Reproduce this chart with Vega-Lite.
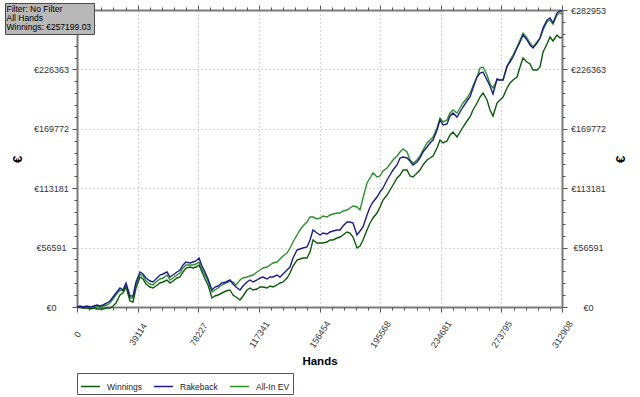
{
 "$schema": "https://vega.github.io/schema/vega-lite/v6.json",
 "width": 485,
 "height": 297,
 "autosize": "none",
 "padding": {"left": 77, "top": 10, "right": 78, "bottom": 90},
 "background": "white",
 "config": {
  "font": "Liberation Sans",
  "view": {"stroke": null},
  "axis": {"domainColor": "#7a7a7a", "domainWidth": 2, "tickColor": "#555", "tickWidth": 1, "labelColor": "#333", "labelFontSize": 9, "labelFont": "Liberation Sans", "titleColor": "#000", "titleFont": "Liberation Sans", "gridColor": "#aaa", "gridDash": [1, 3], "gridWidth": 1, "labelOverlap": false, "labelFlush": false}
 },
 "datasets": {
  "curve": [
   {"h":0,"Winnings":0,"Rakeback":0,"All-In EV":0},
   {"h":1936,"Winnings":0,"Rakeback":953,"All-In EV":0},
   {"h":3871,"Winnings":-953,"Rakeback":0,"All-In EV":-953},
   {"h":6452,"Winnings":-953,"Rakeback":953,"All-In EV":0},
   {"h":8388,"Winnings":-1905,"Rakeback":0,"All-In EV":-953},
   {"h":10968,"Winnings":-953,"Rakeback":953,"All-In EV":0},
   {"h":12904,"Winnings":-1905,"Rakeback":1905,"All-In EV":953},
   {"h":14840,"Winnings":-1905,"Rakeback":953,"All-In EV":0},
   {"h":16776,"Winnings":-1905,"Rakeback":1905,"All-In EV":953},
   {"h":19356,"Winnings":-953,"Rakeback":3811,"All-In EV":1905},
   {"h":21292,"Winnings":-953,"Rakeback":5716,"All-In EV":3811},
   {"h":23227,"Winnings":953,"Rakeback":9527,"All-In EV":7622},
   {"h":25163,"Winnings":3811,"Rakeback":13338,"All-In EV":11432},
   {"h":27744,"Winnings":11432,"Rakeback":18101,"All-In EV":16196},
   {"h":29679,"Winnings":13338,"Rakeback":16196,"All-In EV":15243},
   {"h":31615,"Winnings":19054,"Rakeback":22865,"All-In EV":20959},
   {"h":34196,"Winnings":5716,"Rakeback":10480,"All-In EV":8574},
   {"h":36131,"Winnings":4764,"Rakeback":10480,"All-In EV":8574},
   {"h":38067,"Winnings":18101,"Rakeback":23818,"All-In EV":20959},
   {"h":40648,"Winnings":28581,"Rakeback":33345,"All-In EV":31439},
   {"h":42583,"Winnings":26676,"Rakeback":31439,"All-In EV":29534},
   {"h":44519,"Winnings":21912,"Rakeback":27628,"All-In EV":24770},
   {"h":47100,"Winnings":19054,"Rakeback":24770,"All-In EV":21912},
   {"h":49035,"Winnings":18101,"Rakeback":23818,"All-In EV":20959},
   {"h":50971,"Winnings":20007,"Rakeback":26676,"All-In EV":23818},
   {"h":53552,"Winnings":22865,"Rakeback":30486,"All-In EV":26676},
   {"h":55487,"Winnings":23818,"Rakeback":31439,"All-In EV":27628},
   {"h":58068,"Winnings":25723,"Rakeback":33345,"All-In EV":30486},
   {"h":60004,"Winnings":22865,"Rakeback":28581,"All-In EV":25723},
   {"h":61939,"Winnings":24770,"Rakeback":30486,"All-In EV":27628},
   {"h":64520,"Winnings":27628,"Rakeback":33345,"All-In EV":30486},
   {"h":66456,"Winnings":28581,"Rakeback":35250,"All-In EV":32392},
   {"h":68391,"Winnings":33345,"Rakeback":40013,"All-In EV":37155},
   {"h":70327,"Winnings":37155,"Rakeback":42872,"All-In EV":40013},
   {"h":72908,"Winnings":38108,"Rakeback":41919,"All-In EV":40013},
   {"h":74843,"Winnings":37155,"Rakeback":42872,"All-In EV":40013},
   {"h":76779,"Winnings":38108,"Rakeback":43824,"All-In EV":40966},
   {"h":78714,"Winnings":40013,"Rakeback":46682,"All-In EV":42872},
   {"h":80650,"Winnings":33345,"Rakeback":39061,"All-In EV":36203},
   {"h":82586,"Winnings":26676,"Rakeback":33345,"All-In EV":30486},
   {"h":84521,"Winnings":20959,"Rakeback":26676,"All-In EV":24770},
   {"h":87102,"Winnings":8574,"Rakeback":16196,"All-In EV":14291},
   {"h":89038,"Winnings":10480,"Rakeback":19054,"All-In EV":16196},
   {"h":90973,"Winnings":11432,"Rakeback":20007,"All-In EV":18101},
   {"h":93554,"Winnings":13338,"Rakeback":22865,"All-In EV":20959},
   {"h":96135,"Winnings":15243,"Rakeback":23818,"All-In EV":22865},
   {"h":98716,"Winnings":16196,"Rakeback":25723,"All-In EV":24770},
   {"h":100651,"Winnings":11432,"Rakeback":21912,"All-In EV":23818},
   {"h":102587,"Winnings":9527,"Rakeback":19054,"All-In EV":20959},
   {"h":105168,"Winnings":6669,"Rakeback":16196,"All-In EV":25723},
   {"h":107103,"Winnings":10480,"Rakeback":20007,"All-In EV":27628},
   {"h":109684,"Winnings":16196,"Rakeback":23818,"All-In EV":28581},
   {"h":111620,"Winnings":18101,"Rakeback":25723,"All-In EV":29534},
   {"h":113555,"Winnings":16196,"Rakeback":23818,"All-In EV":30486},
   {"h":116136,"Winnings":17149,"Rakeback":25723,"All-In EV":33345},
   {"h":118072,"Winnings":19054,"Rakeback":27628,"All-In EV":35250},
   {"h":120007,"Winnings":19054,"Rakeback":28581,"All-In EV":37155},
   {"h":122588,"Winnings":18101,"Rakeback":26676,"All-In EV":38108},
   {"h":124524,"Winnings":20007,"Rakeback":28581,"All-In EV":40013},
   {"h":126459,"Winnings":19054,"Rakeback":28581,"All-In EV":41919},
   {"h":129040,"Winnings":20959,"Rakeback":30486,"All-In EV":42872},
   {"h":130976,"Winnings":22865,"Rakeback":28581,"All-In EV":45730},
   {"h":132911,"Winnings":23818,"Rakeback":31439,"All-In EV":48588},
   {"h":135492,"Winnings":27628,"Rakeback":35250,"All-In EV":51446},
   {"h":137428,"Winnings":32392,"Rakeback":38108,"All-In EV":56209},
   {"h":139363,"Winnings":39061,"Rakeback":46682,"All-In EV":61926},
   {"h":141944,"Winnings":44777,"Rakeback":54304,"All-In EV":68594},
   {"h":143880,"Winnings":45730,"Rakeback":55257,"All-In EV":73358},
   {"h":145815,"Winnings":46682,"Rakeback":56209,"All-In EV":77169},
   {"h":148396,"Winnings":46682,"Rakeback":57162,"All-In EV":80980},
   {"h":150332,"Winnings":52399,"Rakeback":63831,"All-In EV":85743},
   {"h":152267,"Winnings":63831,"Rakeback":73358,"All-In EV":85743},
   {"h":154848,"Winnings":60973,"Rakeback":70500,"All-In EV":83838},
   {"h":156784,"Winnings":60973,"Rakeback":68594,"All-In EV":84790},
   {"h":158719,"Winnings":60973,"Rakeback":70500,"All-In EV":86696},
   {"h":161300,"Winnings":61926,"Rakeback":69547,"All-In EV":85743},
   {"h":163236,"Winnings":63831,"Rakeback":71453,"All-In EV":87648},
   {"h":165171,"Winnings":63831,"Rakeback":72405,"All-In EV":88601},
   {"h":167752,"Winnings":65736,"Rakeback":73358,"All-In EV":89554},
   {"h":169688,"Winnings":66689,"Rakeback":73358,"All-In EV":89554},
   {"h":171623,"Winnings":68594,"Rakeback":77169,"All-In EV":91459},
   {"h":174204,"Winnings":71453,"Rakeback":80980,"All-In EV":92412},
   {"h":176140,"Winnings":70500,"Rakeback":80980,"All-In EV":94317},
   {"h":178075,"Winnings":66689,"Rakeback":80027,"All-In EV":96223},
   {"h":180656,"Winnings":56209,"Rakeback":68594,"All-In EV":95270},
   {"h":182592,"Winnings":58115,"Rakeback":72405,"All-In EV":92412},
   {"h":184527,"Winnings":63831,"Rakeback":76216,"All-In EV":103844},
   {"h":187108,"Winnings":73358,"Rakeback":87648,"All-In EV":118135},
   {"h":189044,"Winnings":80027,"Rakeback":95270,"All-In EV":122898},
   {"h":190979,"Winnings":84790,"Rakeback":100034,"All-In EV":127662},
   {"h":193560,"Winnings":89554,"Rakeback":104797,"All-In EV":123851},
   {"h":195496,"Winnings":95270,"Rakeback":109561,"All-In EV":124804},
   {"h":197431,"Winnings":101939,"Rakeback":113371,"All-In EV":129567},
   {"h":200012,"Winnings":106702,"Rakeback":120993,"All-In EV":132425},
   {"h":201948,"Winnings":111466,"Rakeback":125756,"All-In EV":136236},
   {"h":203883,"Winnings":116229,"Rakeback":130520,"All-In EV":140047},
   {"h":206464,"Winnings":122898,"Rakeback":135283,"All-In EV":143858},
   {"h":208400,"Winnings":125756,"Rakeback":141952,"All-In EV":147669},
   {"h":210335,"Winnings":130520,"Rakeback":142905,"All-In EV":150527},
   {"h":212916,"Winnings":130520,"Rakeback":141952,"All-In EV":147669},
   {"h":214852,"Winnings":124804,"Rakeback":139094,"All-In EV":140047},
   {"h":216787,"Winnings":123851,"Rakeback":135283,"All-In EV":137189},
   {"h":219368,"Winnings":127662,"Rakeback":138142,"All-In EV":140047},
   {"h":221304,"Winnings":130520,"Rakeback":141952,"All-In EV":143858},
   {"h":223239,"Winnings":135283,"Rakeback":147669,"All-In EV":149574},
   {"h":225820,"Winnings":140047,"Rakeback":152432,"All-In EV":156243},
   {"h":227756,"Winnings":141952,"Rakeback":156243,"All-In EV":159101},
   {"h":229691,"Winnings":143858,"Rakeback":159101,"All-In EV":161959},
   {"h":232272,"Winnings":151479,"Rakeback":168628,"All-In EV":170533},
   {"h":234208,"Winnings":159101,"Rakeback":178155,"All-In EV":180060},
   {"h":236143,"Winnings":156243,"Rakeback":173391,"All-In EV":176250},
   {"h":238724,"Winnings":158148,"Rakeback":174344,"All-In EV":178155},
   {"h":240660,"Winnings":163864,"Rakeback":181966,"All-In EV":184824},
   {"h":242595,"Winnings":166723,"Rakeback":184824,"All-In EV":187682},
   {"h":245176,"Winnings":161959,"Rakeback":181013,"All-In EV":184824},
   {"h":247112,"Winnings":166723,"Rakeback":185777,"All-In EV":189587},
   {"h":249047,"Winnings":171486,"Rakeback":190540,"All-In EV":194351},
   {"h":251628,"Winnings":177202,"Rakeback":196256,"All-In EV":199114},
   {"h":253564,"Winnings":181013,"Rakeback":200067,"All-In EV":203878},
   {"h":255499,"Winnings":187682,"Rakeback":208641,"All-In EV":210547},
   {"h":258080,"Winnings":194351,"Rakeback":219121,"All-In EV":219121},
   {"h":260016,"Winnings":200067,"Rakeback":222932,"All-In EV":227695},
   {"h":261951,"Winnings":203878,"Rakeback":223885,"All-In EV":228648},
   {"h":264532,"Winnings":197209,"Rakeback":216263,"All-In EV":221026},
   {"h":266468,"Winnings":187682,"Rakeback":210547,"All-In EV":212452},
   {"h":268403,"Winnings":181966,"Rakeback":202925,"All-In EV":208641},
   {"h":270984,"Winnings":194351,"Rakeback":217216,"All-In EV":216263},
   {"h":272920,"Winnings":197209,"Rakeback":216263,"All-In EV":216263},
   {"h":274855,"Winnings":200067,"Rakeback":216263,"All-In EV":216263},
   {"h":277436,"Winnings":208641,"Rakeback":229601,"All-In EV":228648},
   {"h":279372,"Winnings":213405,"Rakeback":233412,"All-In EV":235317},
   {"h":281307,"Winnings":216263,"Rakeback":238175,"All-In EV":240080},
   {"h":283888,"Winnings":219121,"Rakeback":246749,"All-In EV":247702},
   {"h":285824,"Winnings":228648,"Rakeback":252466,"All-In EV":254371},
   {"h":287759,"Winnings":237222,"Rakeback":259134,"All-In EV":261040},
   {"h":290340,"Winnings":233412,"Rakeback":254371,"All-In EV":256276},
   {"h":292276,"Winnings":231506,"Rakeback":249607,"All-In EV":251513},
   {"h":294211,"Winnings":225790,"Rakeback":246749,"All-In EV":247702},
   {"h":296792,"Winnings":225790,"Rakeback":251513,"All-In EV":252466},
   {"h":298728,"Winnings":228648,"Rakeback":256276,"All-In EV":256276},
   {"h":300663,"Winnings":242939,"Rakeback":265803,"All-In EV":263898},
   {"h":303244,"Winnings":250560,"Rakeback":273425,"All-In EV":271520},
   {"h":305180,"Winnings":257229,"Rakeback":275330,"All-In EV":273425},
   {"h":307115,"Winnings":253418,"Rakeback":270567,"All-In EV":269614},
   {"h":309696,"Winnings":259134,"Rakeback":280094,"All-In EV":278188},
   {"h":311632,"Winnings":256276,"Rakeback":281999,"All-In EV":280094},
   {"h":312908,"Winnings":257199,"Rakeback":281999,"All-In EV":279141}
  ],
  "info": [
   {"info": "Filter: No Filter"},
   {"info": "All Hands"},
   {"info": "Winnings: €257199.03"}
  ]
 },
 "data": {"name": "curve"},
 "layer": [
  {
   "transform": [{"fold": ["All-In EV", "Winnings", "Rakeback"], "as": ["key", "value"]}],
   "mark": {"type": "line", "strokeWidth": 1.4},
   "encoding": {
    "x": {"field": "h", "type": "quantitative", "scale": {"domain": [0, 312908], "nice": false, "zero": false},
     "axis": {"orient": "bottom", "values": [0, 39114, 78227, 117341, 156454, 195568, 234681, 273795, 312908], "format": "d", "labelAngle": -57, "labelAlign": "center", "labelBaseline": "middle", "labelPadding": 22, "tickSize": 5, "grid": true, "title": "Hands", "titleFontSize": 11.5, "titleFontWeight": "bold", "titleY": 54, "titleBaseline": "middle"}},
    "y": {"field": "value", "type": "quantitative", "scale": {"domain": [0, 282953], "nice": false, "zero": false},
     "axis": {"orient": "left", "values": [0, 56591, 113181, 169772, 226363, 282953], "labelExpr": "datum.value > 282000 ? '' : '€' + datum.value", "labelAlign": "center", "labelBaseline": "middle", "labelPadding": 21, "tickSize": 5, "grid": true, "title": "€", "titleFontSize": 13, "titleFontWeight": "bold", "titleAngle": -90, "titleX": -60, "titleY": 149, "titleAlign": "center", "titleBaseline": "middle"}},
    "color": {"field": "key", "type": "nominal", "scale": {"domain": ["Winnings", "Rakeback", "All-In EV"], "range": ["#0c5a0c", "#1c1c8c", "#2f8f2f"]},
     "legend": {"orient": "none", "legendX": 0, "legendY": 363, "direction": "horizontal", "title": null, "symbolType": "stroke", "symbolSize": 361, "symbolStrokeWidth": 1.5, "labelFontSize": 8.5, "labelOffset": 6, "columnPadding": 9, "padding": 3, "strokeColor": "#555", "fillColor": "#fff", "labelColor": "#222"}}
   }
  },
  {
   "transform": [{"fold": ["All-In EV", "Winnings", "Rakeback"], "as": ["key", "value"]}],
   "mark": {"type": "line", "strokeOpacity": 0},
   "encoding": {
    "x": {"field": "h", "type": "quantitative", "scale": {"domain": [0, 312908], "nice": false, "zero": false},
     "axis": {"orient": "top", "values": [0, 39114, 78227, 117341, 156454, 195568, 234681, 273795, 312908], "labels": false, "tickSize": 5, "grid": false, "title": null}},
    "y": {"field": "value", "type": "quantitative", "scale": {"domain": [0, 282953], "nice": false, "zero": false},
     "axis": {"orient": "right", "values": [0, 56591, 113181, 169772, 226363, 282953], "labelExpr": "'€' + datum.value", "labelAlign": "center", "labelBaseline": "middle", "labelPadding": 21, "tickSize": 5, "grid": false, "title": "€", "titleFontSize": 13, "titleFontWeight": "bold", "titleAngle": -90, "titleX": 58, "titleY": 149, "titleAlign": "center", "titleBaseline": "middle"}},
    "detail": {"field": "key", "type": "nominal"}
   }
  },
  {
   "transform": [{"fold": ["All-In EV", "Winnings", "Rakeback"], "as": ["key", "value"]}],
   "mark": {"type": "line", "strokeOpacity": 0},
   "encoding": {
    "x": {"field": "h", "type": "quantitative", "scale": {"domain": [0, 312908], "nice": false, "zero": false},
     "axis": {"orient": "bottom", "values": [7823, 15645, 23468, 31291, 46937, 54759, 62582, 70405, 86050, 93873, 101695, 109518, 125164, 132986, 140809, 148632, 164277, 172100, 179922, 187745, 203391, 211213, 219036, 226859, 242504, 250327, 258149, 265972, 281618, 289440, 297263, 305086], "labels": false, "tickSize": 3, "domain": false, "grid": false, "title": null}},
    "y": {"field": "value", "type": "quantitative", "scale": {"domain": [0, 282953], "nice": false, "zero": false},
     "axis": {"orient": "left", "values": [11318, 22636, 33954, 45273, 67909, 79227, 90545, 101863, 124500, 135818, 147136, 158454, 181090, 192408, 203727, 215045, 237681, 248999, 260317, 271635], "labels": false, "tickSize": 3, "domain": false, "grid": false, "title": null}},
    "detail": {"field": "key", "type": "nominal"}
   }
  },
  {
   "transform": [{"fold": ["All-In EV", "Winnings", "Rakeback"], "as": ["key", "value"]}],
   "mark": {"type": "line", "strokeOpacity": 0},
   "encoding": {
    "x": {"field": "h", "type": "quantitative", "scale": {"domain": [0, 312908], "nice": false, "zero": false},
     "axis": {"orient": "top", "values": [7823, 15645, 23468, 31291, 46937, 54759, 62582, 70405, 86050, 93873, 101695, 109518, 125164, 132986, 140809, 148632, 164277, 172100, 179922, 187745, 203391, 211213, 219036, 226859, 242504, 250327, 258149, 265972, 281618, 289440, 297263, 305086], "labels": false, "tickSize": 3, "domain": false, "grid": false, "title": null}},
    "y": {"field": "value", "type": "quantitative", "scale": {"domain": [0, 282953], "nice": false, "zero": false},
     "axis": {"orient": "right", "values": [11318, 22636, 33954, 45273, 67909, 79227, 90545, 101863, 124500, 135818, 147136, 158454, 181090, 192408, 203727, 215045, 237681, 248999, 260317, 271635], "labels": false, "tickSize": 3, "domain": false, "grid": false, "title": null}},
    "detail": {"field": "key", "type": "nominal"}
   }
  },
  {
   "data": {"name": "info"},
   "mark": {"type": "point", "opacity": 0, "size": 1},
   "encoding": {
    "shape": {"field": "info", "type": "nominal", "scale": {"domain": ["Filter: No Filter", "All Hands", "Winnings: €257199.03"]},
     "legend": {"orient": "none", "legendX": -72, "legendY": -7, "title": null, "direction": "vertical", "fillColor": "#b8b8b8", "strokeColor": "#4a4a4a", "padding": 2, "symbolSize": 1, "symbolOpacity": 0, "symbolStrokeWidth": 0.01, "symbolStrokeColor": "transparent", "symbolFillColor": "transparent", "labelOffset": -9, "labelFontSize": 8.5, "labelColor": "#000", "rowPadding": 0, "labelLimit": 300}}
   }
  }
 ],
 "resolve": {"axis": {"x": "independent", "y": "independent"}}
}
